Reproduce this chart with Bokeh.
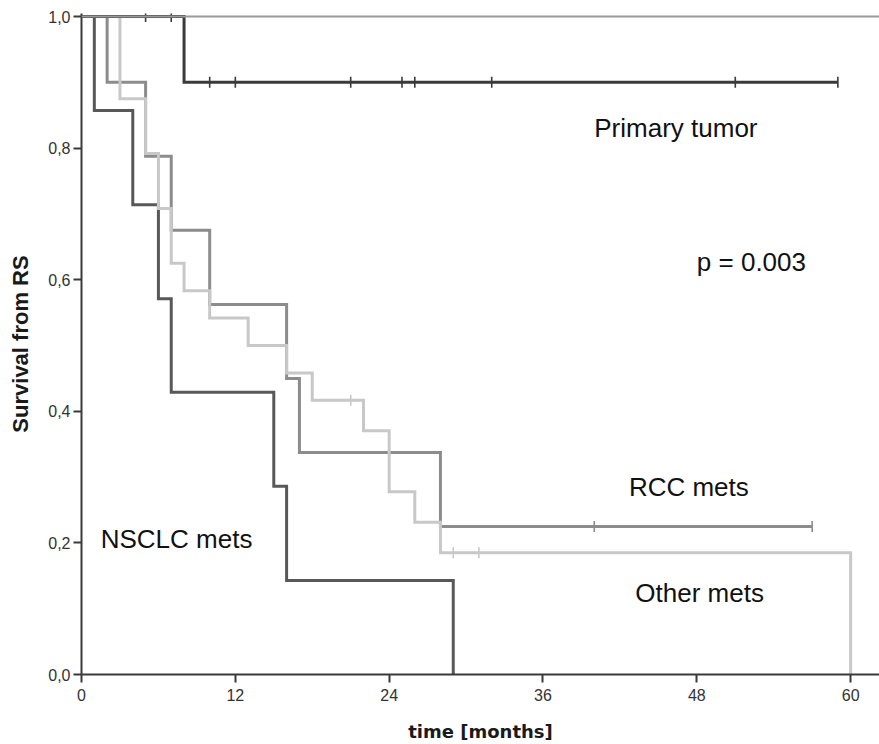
import numpy as np
from bokeh.plotting import figure
from bokeh.models import Range1d, FixedTicker, Span, Label
from bokeh.embed import file_html
from bokeh.resources import INLINE

# ---------------- data ----------------
x_ticks = [0, 12, 24, 36, 48, 60]
y_ticks = [0.0, 0.2, 0.4, 0.6, 0.8, 1.0]
y_tick_labels = ["0,0", "0,2", "0,4", "0,6", "0,8", "1,0"]

primary_t = [0, 8, 59]
primary_s = [1.0, 0.9, 0.9]
primary_cens_t = [5, 7, 10, 12, 21, 25, 26, 32, 51, 59]
primary_cens_s = [1.0, 1.0, 0.9, 0.9, 0.9, 0.9, 0.9, 0.9, 0.9, 0.9]

nsclc_t = [0, 1, 4, 6, 7, 15, 16, 29]
nsclc_s = [1.0, 0.857, 0.714, 0.571, 0.429, 0.286, 0.143, 0.0]

rcc_t = [0, 2, 5, 7, 10, 16, 17, 28, 57]
rcc_s = [1.0, 0.9, 0.7875, 0.675, 0.5625, 0.45, 0.3375, 0.225, 0.225]
rcc_cens_t = [40, 57]
rcc_cens_s = [0.225, 0.225]

other_t = [0, 3, 5, 6, 7, 8, 10, 13, 16, 18, 22, 24, 26, 28, 60]
other_s = [1.0, 0.875, 0.7917, 0.7083, 0.625, 0.5833, 0.5417, 0.5, 0.4583,
           0.4167, 0.3704, 0.2778, 0.2315, 0.1852, 0.0]
other_cens_t = [21, 29, 31]
other_cens_s = [0.4167, 0.1852, 0.1852]

annotations = ["Primary tumor", "p = 0.003", "RCC mets", "Other mets", "NSCLC mets"]

# ---------------- figure ----------------
p = figure(width=879, height=744, output_backend="svg", toolbar_location=None,
           x_range=Range1d(0, 62.25), y_range=Range1d(0, 1.0046),
           min_border_left=81, min_border_right=0, min_border_top=13,
           min_border_bottom=70, background_fill_color="white",
           border_fill_color="white")
p.outline_line_color = None
p.grid.visible = False

# frame top line
p.add_layout(Span(location=1.0, dimension="width", line_color="#9a9a9a",
                  line_width=2))

def curve(t, s, color, ct=None, cs=None):
    p.step(t, s, mode="after", line_color=color, line_width=3,
           line_join="miter")
    if ct:
        p.scatter(ct, cs, marker="dash", angle=np.pi / 2, size=11,
                  line_color=color, line_width=1.6)

curve(rcc_t, rcc_s, "#8c8c8c", rcc_cens_t, rcc_cens_s)
curve(nsclc_t, nsclc_s, "#585858")
curve(other_t, other_s, "#c8c8c8", other_cens_t, other_cens_s)
curve(primary_t, primary_s, "#3a3a3a", primary_cens_t, primary_cens_s)

# ---------------- axes ----------------
for ax in (p.xaxis[0], p.yaxis[0]):
    ax.axis_line_color = "#3a3a3a"
    ax.axis_line_width = 2
    ax.major_tick_line_color = "#3a3a3a"
    ax.major_tick_line_width = 2
    ax.major_tick_in = 0
    ax.major_tick_out = 8
    ax.minor_tick_line_color = None
    ax.major_label_text_font = "Liberation Sans"
    ax.major_label_text_font_size = "16px"
    ax.major_label_text_color = "#333333"

p.xaxis.ticker = FixedTicker(ticks=x_ticks)
p.xaxis.major_label_standoff = 6
p.xaxis.axis_label = "time [months]"
p.xaxis.axis_label_text_font = "DejaVu Sans"
p.xaxis.axis_label_text_font_style = "bold"
p.xaxis.axis_label_text_font_size = "18px"
p.xaxis.axis_label_text_color = "#1a1a1a"
p.xaxis.axis_label_standoff = 17

p.yaxis.ticker = FixedTicker(ticks=y_ticks)
p.yaxis.major_label_overrides = {v: l for v, l in zip(y_ticks, y_tick_labels)}
p.yaxis.major_label_standoff = 3
p.yaxis.axis_label = "Survival from RS"
p.yaxis.axis_label_text_font = "Liberation Sans"
p.yaxis.axis_label_text_font_style = "bold"
p.yaxis.axis_label_text_font_size = "22px"
p.yaxis.axis_label_text_color = "#1a1a1a"
p.yaxis.axis_label_standoff = 12

# ---------------- annotations ----------------
ann_pos = [(40.0, 0.830), (48.0, 0.627), (42.7, 0.285), (43.2, 0.124), (1.5, 0.206)]
for txt, (ax_, ay_) in zip(annotations, ann_pos):
    p.add_layout(Label(x=ax_, y=ay_, text=txt, text_font="Liberation Sans",
                       text_font_size="26px", text_color="#111111",
                       text_align="left", text_baseline="alphabetic"))

open("out.html", "w").write(file_html(p, INLINE))
